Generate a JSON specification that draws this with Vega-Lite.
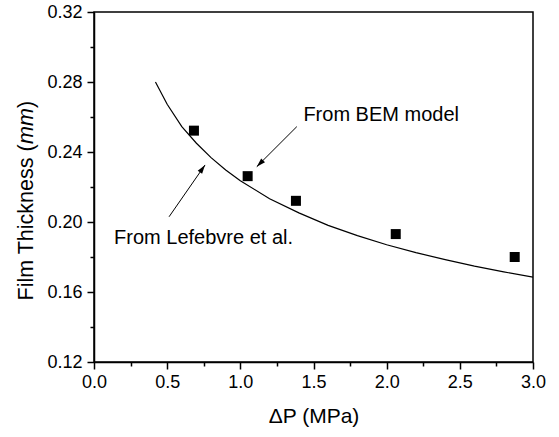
{
  "$schema": "https://vega.github.io/schema/vega-lite/v6.json",
  "autosize": "none",
  "width": 439,
  "height": 350,
  "padding": {"left": 94, "top": 12, "right": 26, "bottom": 75},
  "background": "white",
  "config": {
    "view": {"stroke": "black", "strokeWidth": 1.5},
    "axis": {
      "grid": false,
      "domainColor": "black",
      "domainWidth": 1.5,
      "tickColor": "black",
      "tickWidth": 1.5,
      "labelColor": "black",
      "labelFont": "Liberation Sans",
      "labelFontSize": 18,
      "labelFlush": false,
      "titleColor": "black",
      "titleFont": "Liberation Sans",
      "titleFontSize": 21,
      "titleFontWeight": "normal"
    }
  },
  "datasets": {
    "curve": [
      {"dp": 0.42, "h": 0.2800},
      {"dp": 0.5, "h": 0.2673},
      {"dp": 0.6, "h": 0.2545},
      {"dp": 0.7, "h": 0.2450},
      {"dp": 0.8, "h": 0.2368},
      {"dp": 0.9, "h": 0.2297},
      {"dp": 1.0, "h": 0.2236},
      {"dp": 1.2, "h": 0.2133},
      {"dp": 1.4, "h": 0.2052},
      {"dp": 1.6, "h": 0.1981},
      {"dp": 1.8, "h": 0.1922},
      {"dp": 2.0, "h": 0.1870},
      {"dp": 2.2, "h": 0.1825},
      {"dp": 2.4, "h": 0.1785},
      {"dp": 2.6, "h": 0.1748},
      {"dp": 2.8, "h": 0.1715},
      {"dp": 3.0, "h": 0.1685}
    ],
    "points": [
      {"dp": 0.683, "h": 0.2522},
      {"dp": 1.05, "h": 0.2262},
      {"dp": 1.38, "h": 0.2121},
      {"dp": 2.062, "h": 0.1931},
      {"dp": 2.875, "h": 0.1800}
    ],
    "arrows": [
      {"name": "BEM", "x1": 1.386, "y1": 0.2545, "x2": 1.112, "y2": 0.2316},
      {"name": "Lef", "x1": 0.513, "y1": 0.2030, "x2": 0.759, "y2": 0.2326}
    ],
    "labels": [
      {"name": "BEM", "x": 1.431, "y": 0.2579, "text": "From BEM model"},
      {"name": "Lef", "x": 0.137, "y": 0.1874, "text": "From Lefebvre et al."}
    ]
  },
  "resolve": {"axis": {"x": "independent", "y": "independent"}},
  "layer": [
    {
      "data": {"name": "curve"},
      "mark": {"type": "line", "color": "black", "strokeWidth": 1.2, "clip": true},
      "encoding": {
        "x": {
          "field": "dp", "type": "quantitative",
          "scale": {"domain": [0, 3], "nice": false, "zero": false},
          "axis": {
            "orient": "bottom",
            "title": "ΔP (MPa)",
            "values": [0, 0.5, 1, 1.5, 2, 2.5, 3],
            "format": ".1f",
            "tickSize": 7,
            "labelPadding": 4,
            "titlePadding": 14
          }
        },
        "y": {
          "field": "h", "type": "quantitative",
          "scale": {"domain": [0.12, 0.32], "nice": false, "zero": false},
          "axis": {
            "orient": "left",
            "title": "Film Thickness (",
            "titleFontSize": 21.5,
            "titleAngle": 270,
            "titleAlign": "left",
            "titleBaseline": "alphabetic",
            "titleX": -62,
            "titleY": 288,
            "values": [0.12, 0.16, 0.2, 0.24, 0.28, 0.32],
            "format": ".2f",
            "tickSize": 7,
            "labelPadding": 5
          }
        }
      }
    },
    {
      "data": {"name": "points"},
      "mark": {"type": "point", "shape": "square", "filled": true, "color": "black", "size": 100, "opacity": 1},
      "encoding": {
        "x": {
          "field": "dp", "type": "quantitative",
          "scale": {"domain": [0, 3], "nice": false, "zero": false},
          "axis": {
            "orient": "bottom",
            "title": null,
            "values": [0.25, 0.75, 1.25, 1.75, 2.25, 2.75],
            "labels": false,
            "domain": false,
            "tickSize": 4
          }
        },
        "y": {
          "field": "h", "type": "quantitative",
          "scale": {"domain": [0.12, 0.32], "nice": false, "zero": false},
          "axis": {
            "orient": "left",
            "title": "mm",
            "titleFontSize": 21.5,
            "titleFontStyle": "italic",
            "titleAngle": 270,
            "titleAlign": "left",
            "titleBaseline": "alphabetic",
            "titleX": -62,
            "titleY": 131.5,
            "values": [0.14, 0.18, 0.22, 0.26, 0.30],
            "labels": false,
            "domain": false,
            "tickSize": 4
          }
        }
      }
    },
    {
      "data": {"name": "arrows"},
      "mark": {"type": "rule", "color": "black", "strokeWidth": 1},
      "encoding": {
        "x": {"field": "x1", "type": "quantitative", "scale": {"domain": [0, 3], "nice": false, "zero": false}, "axis": null},
        "y": {
          "field": "y1", "type": "quantitative",
          "scale": {"domain": [0.12, 0.32], "nice": false, "zero": false},
          "axis": {
            "orient": "left",
            "title": ")",
            "titleFontSize": 21.5,
            "titleAngle": 270,
            "titleAlign": "left",
            "titleBaseline": "alphabetic",
            "titleX": -62,
            "titleY": 95.5,
            "labels": false,
            "ticks": false,
            "domain": false
          }
        },
        "x2": {"field": "x2"},
        "y2": {"field": "y2"}
      }
    },
    {
      "data": {"name": "arrows"},
      "transform": [{"filter": "datum.name === 'BEM'"}],
      "mark": {"type": "point", "shape": "M0,0 L0.3,1 L-0.3,1 Z", "filled": true, "color": "black", "opacity": 1, "size": 324, "angle": 225},
      "encoding": {
        "x": {"field": "x2", "type": "quantitative", "scale": {"domain": [0, 3], "nice": false, "zero": false}, "axis": null},
        "y": {"field": "y2", "type": "quantitative", "scale": {"domain": [0.12, 0.32], "nice": false, "zero": false}, "axis": null}
      }
    },
    {
      "data": {"name": "arrows"},
      "transform": [{"filter": "datum.name === 'Lef'"}],
      "mark": {"type": "point", "shape": "M0,0 L0.3,1 L-0.3,1 Z", "filled": true, "color": "black", "opacity": 1, "size": 324, "angle": 35},
      "encoding": {
        "x": {"field": "x2", "type": "quantitative", "scale": {"domain": [0, 3], "nice": false, "zero": false}, "axis": null},
        "y": {"field": "y2", "type": "quantitative", "scale": {"domain": [0.12, 0.32], "nice": false, "zero": false}, "axis": null}
      }
    },
    {
      "data": {"name": "labels"},
      "mark": {"type": "text", "font": "Liberation Sans", "fontSize": 20, "align": "left", "baseline": "alphabetic", "color": "black"},
      "encoding": {
        "x": {"field": "x", "type": "quantitative", "scale": {"domain": [0, 3], "nice": false, "zero": false}, "axis": null},
        "y": {"field": "y", "type": "quantitative", "scale": {"domain": [0.12, 0.32], "nice": false, "zero": false}, "axis": null},
        "text": {"field": "text"}
      }
    }
  ]
}
